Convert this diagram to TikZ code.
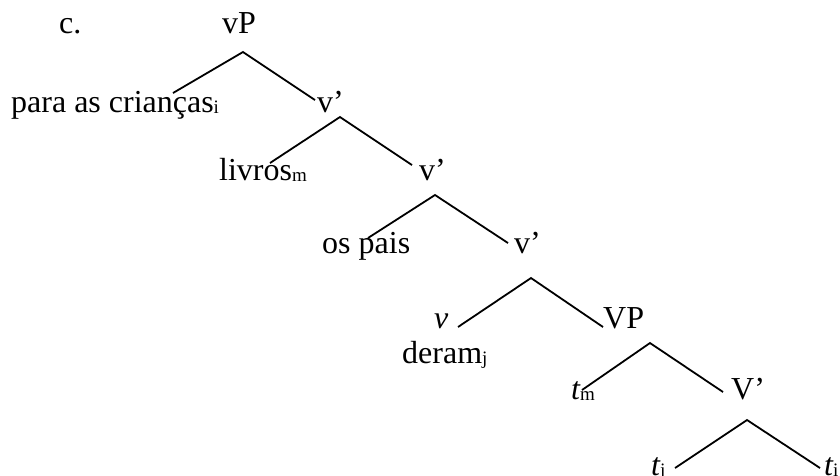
\documentclass[tikz,border=0pt]{standalone}
\usepackage{fontspec}
\setmainfont{Liberation Serif}
\newcommand\idx[1]{\raisebox{-1.5pt}{\fontsize{19}{19}\selectfont #1}}

\begin{document}
\begin{tikzpicture}[
  x=1pt, y=-1pt,
  every node/.style={inner sep=0pt, anchor=base west, font=\fontsize{32}{38}\selectfont},
  arm/.style={line width=1.8pt}
]
\useasboundingbox (0,0) rectangle (840,475);

% labels
\node (ex)   at (59,33)   {c.};
\node (vP)   at (222,33)  {vP};
\node (pac)  at (11,112)  {para as crianças\idx{i}};
\node (v1)   at (317,112) {v’};
\node (liv)  at (219,180) {livros\idx{m}};
\node (v2)   at (419,180) {v’};
\node (pais) at (322,253) {os pais};
\node (v3)   at (514,253) {v’};
\node (vh)   at (434,328) {\itshape v};
\node (der)  at (402,363) {deram\idx{j}};
\node (VP)   at (603,328) {VP};
\node (tm)   at (571,399) {\itshape t\upshape\idx{m}};
\node (Vb)   at (731,399) {V’};
\node (tj)   at (651,475) {\itshape t\upshape\idx{j}};
\node (ti)   at (824,475) {\itshape t\upshape\idx{i}};

% branch points and arm ends
\coordinate (j1) at (243,52);  \coordinate (j1l) at (173,93);  \coordinate (j1r) at (315,100);
\coordinate (j2) at (340,117); \coordinate (j2l) at (270,163); \coordinate (j2r) at (412,165);
\coordinate (j3) at (435,195); \coordinate (j3l) at (368,238); \coordinate (j3r) at (508,243);
\coordinate (j4) at (531,278); \coordinate (j4l) at (458,327); \coordinate (j4r) at (603,327);
\coordinate (j5) at (650,343); \coordinate (j5l) at (582,390); \coordinate (j5r) at (723,392);
\coordinate (j6) at (747,420); \coordinate (j6l) at (675,468); \coordinate (j6r) at (820,468);

\draw[arm] (j1l) -- (j1) -- (j1r);
\draw[arm] (j2l) -- (j2) -- (j2r);
\draw[arm] (j3l) -- (j3) -- (j3r);
\draw[arm] (j4l) -- (j4) -- (j4r);
\draw[arm] (j5l) -- (j5) -- (j5r);
\draw[arm] (j6l) -- (j6) -- (j6r);
\end{tikzpicture}
\end{document}
